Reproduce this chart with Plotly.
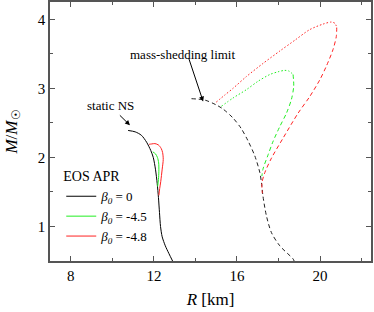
import plotly.graph_objects as go

# ---- data ----
# static NS, beta0 = 0 (solid black)
R_b0 = [10.76, 11.1, 11.4, 11.65, 11.85, 11.97, 12.08, 12.16, 12.22, 12.27, 12.32, 12.4, 12.55, 12.72, 12.9]
M_b0 = [2.39, 2.37, 2.32, 2.22, 2.10, 2.0, 1.82, 1.62, 1.42, 1.2, 1.0, 0.85, 0.72, 0.61, 0.5]
# beta0 = -4.5 (solid green)
R_b45 = [12.18, 12.22, 12.24, 12.23, 12.17, 12.08, 11.95]
M_b45 = [1.58, 1.68, 1.80, 1.92, 2.0, 2.05, 2.08]
# beta0 = -4.8 (solid red)
R_b48 = [12.24, 12.28, 12.33, 12.4, 12.45, 12.42, 12.35, 12.22, 12.05, 11.9, 11.77]
M_b48 = [1.45, 1.55, 1.65, 1.83, 1.97, 2.07, 2.13, 2.18, 2.20, 2.195, 2.19]
# mass-shedding limit (dashed black)
R_ms = [13.81, 14.45, 15.0, 15.33, 15.81, 16.2, 16.53, 16.86, 17.1, 17.18, 17.25, 17.42, 17.66, 18.06, 18.7, 18.75]
M_ms = [2.85, 2.83, 2.76, 2.70, 2.57, 2.42, 2.24, 2.02, 1.78, 1.63, 1.44, 1.15, 0.91, 0.72, 0.53, 0.5]
# beta0 = -4.8, dotted and dashed branches
R_r_dot = [15.0, 15.4, 15.81, 16.45, 17.25, 18.06, 18.8, 19.5, 20.14, 20.54, 20.72, 20.8]
M_r_dot = [2.80, 2.90, 3.00, 3.17, 3.36, 3.54, 3.70, 3.85, 3.93, 3.96, 3.94, 3.88]
R_r_dash = [20.8, 20.78, 20.62, 20.3, 19.98, 19.5, 18.94, 18.2, 17.66, 17.34, 17.2, 17.22]
M_r_dash = [3.88, 3.75, 3.56, 3.32, 3.12, 2.88, 2.64, 2.27, 1.99, 1.78, 1.63, 1.48]
# beta0 = -4.5, dotted and dashed branches
R_g_dot = [15.25, 15.81, 16.45, 17.0, 17.58, 17.98, 18.3, 18.5, 18.7]
M_g_dot = [2.74, 2.86, 2.98, 3.10, 3.20, 3.24, 3.26, 3.25, 3.20]
R_g_dash = [18.7, 18.73, 18.62, 18.38, 18.05, 17.72, 17.5, 17.25, 17.2]
M_g_dash = [3.20, 3.03, 2.84, 2.64, 2.44, 2.22, 2.04, 1.83, 1.73]

x_ticks = [8, 12, 16, 20]
y_ticks = [1, 2, 3, 4]

BLACK = "#000000"
GREEN = "#22ee22"
RED = "#ff2222"
FONT = "Liberation Serif, Times New Roman, serif"
AX = "#555555"

fig = go.Figure()

def line(x, y, color, dash="solid", name=None, show=False):
    fig.add_trace(go.Scatter(
        x=x, y=y, mode="lines", name=name, showlegend=show, legendgroup=name if show else None,
        line=dict(color=color, width=1, dash=dash, shape="spline", smoothing=0.8)))

line(R_b0, M_b0, BLACK, "solid", "<i>β</i><sub><i>0</i></sub> = 0", True)
line(R_b45, M_b45, GREEN, "solid", "<i>β</i><sub><i>0</i></sub> = -4.5", True)
line(R_b48, M_b48, RED, "solid", "<i>β</i><sub><i>0</i></sub> = -4.8", True)
line(R_ms, M_ms, "#222222", "4px,3px")
line(R_r_dot, M_r_dot, RED, "1.5px,2px")
line(R_r_dash, M_r_dash, RED, "4px,3px")
line(R_g_dot, M_g_dot, GREEN, "1.5px,2px")
line(R_g_dash, M_g_dash, GREEN, "4px,3px")

axis_common = dict(
    showline=True, linecolor=AX, linewidth=1.5, mirror="allticks",
    ticks="inside", ticklen=5, tickwidth=1, tickcolor=AX,
    showgrid=False, zeroline=False, automargin=False,
    tickfont=dict(family=FONT, size=15, color="black"),
)

fig.update_xaxes(
    range=[7, 22.45], tickvals=x_ticks, ticktext=[str(v) for v in x_ticks],
    minor=dict(ticks="inside", ticklen=3, tickcolor=AX, dtick=2, tick0=0, showgrid=False),
    title=dict(text="<i>R</i> [km]", font=dict(family=FONT, size=17, color="black"), standoff=10),
    **axis_common)
fig.update_yaxes(
    range=[0.5, 4.25], tickvals=y_ticks, ticktext=[str(v) for v in y_ticks],
    minor=dict(ticks="inside", ticklen=3, tickcolor=AX, dtick=0.5, tick0=0, showgrid=False),
    title=dict(text="<i>M</i>/<i>M</i><sub>☉</sub>", font=dict(family=FONT, size=17, color="black"), standoff=16),
    **axis_common)

ann_font = dict(family=FONT, size=13, color="black")
fig.add_annotation(x=9.93, y=2.75, text="static NS", showarrow=False, font=ann_font)
fig.add_annotation(x=10.85, y=2.465, ax=10.29, ay=2.63, axref="x", ayref="y",
                   text="", showarrow=True, arrowhead=2, arrowsize=1, arrowwidth=1, arrowcolor="black")
fig.add_annotation(x=13.4, y=3.49, text="mass-shedding limit", showarrow=False, font=ann_font)
fig.add_annotation(x=14.37, y=2.81, ax=13.65, ay=3.46, axref="x", ayref="y",
                   text="", showarrow=True, arrowhead=2, arrowsize=1, arrowwidth=1, arrowcolor="black")

fig.update_layout(
    width=374, height=312,
    margin=dict(l=50, r=3, t=2, b=51, autoexpand=False),
    paper_bgcolor="white", plot_bgcolor="white",
    font=dict(family=FONT, size=13, color="black"),
    legend=dict(
        title=dict(text="EOS APR", font=dict(family=FONT, size=14)),
        x=0.035, y=0.378, xanchor="left", yanchor="top",
        bgcolor="rgba(0,0,0,0)", borderwidth=0,
        font=dict(family=FONT, size=13), tracegroupgap=0,
    ),
)

fig.write_html("out.html", config={"responsive": False, "displayModeBar": False},
               post_script="document.body.style.margin='0';document.body.style.overflow='hidden';")
